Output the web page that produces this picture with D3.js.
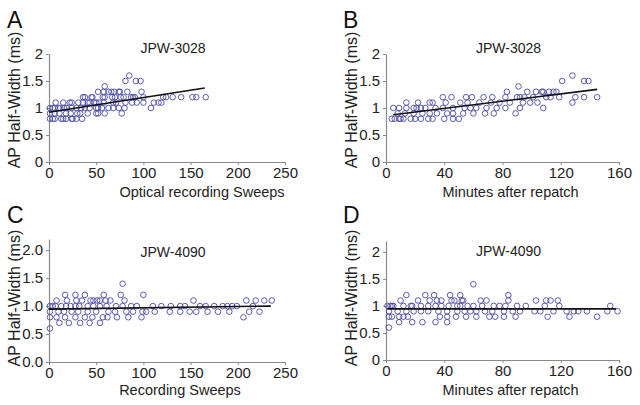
<!DOCTYPE html>
<html>
<head>
<meta charset="utf-8">
<script src="https://cdn.jsdelivr.net/npm/d3@7"></script>
<style>
  body { margin: 0; background: #fff; }
  svg { display: block; font-family: "Liberation Sans", Arial, sans-serif; }
</style>
</head>
<body>
<svg id="chart" width="640" height="405"></svg>
<script>
// x = sweep / minute, y = AP half-width (ms)
const pointsA = [
  [85,1.6],[81,1.5],[92,1.5],[97,1.5],[59,1.4],
  [52,1.3],[58,1.3],[63,1.3],[66,1.3],[69,1.3],[74,1.3],[75,1.3],[83,1.3],[98,1.3],
  [36,1.2],[38,1.2],[45,1.2],[46,1.2],[57,1.2],[59,1.2],[67,1.2],[70,1.2],[76,1.2],[79,1.2],[87,1.2],[89,1.2],[91,1.2],[100,1.2],[121,1.2],[124,1.2],[131,1.2],[140,1.2],[152,1.2],[156,1.2],[166,1.2],
  [7,1.1],[15,1.1],[22,1.1],[24,1.1],[31,1.1],[36,1.1],[41,1.1],[43,1.1],[48,1.1],[50,1.1],[53,1.1],[58,1.1],[68,1.1],[71,1.1],[81,1.1],[88,1.1],[93,1.1],[100,1.1],[111,1.1],[116,1.1],[119,1.1],
  [1,1.0],[4,1.0],[6,1.0],[10,1.0],[12,1.0],[16,1.0],[19,1.0],[24,1.0],[29,1.0],[34,1.0],[38,1.0],[43,1.0],[50,1.0],[52,1.0],[56,1.0],[63,1.0],[68,1.0],[74,1.0],[80,1.0],[108,1.0],
  [1,0.9],[6,0.9],[11,0.9],[18,0.9],[23,0.9],[30,0.9],[33,0.9],[41,0.9],[50,0.9],[52,0.9],[59,0.9],[77,0.9],
  [1,0.8],[4,0.8],[6,0.8],[13,0.8],[15,0.8],[18,0.8],[24,0.8],[25,0.8],[29,0.8],[35,0.8]
];
const pointsB = [
  [128,1.6],[121,1.5],[136,1.5],[139,1.5],[91,1.4],
  [83,1.3],[97,1.3],[103,1.3],[107,1.3],[108,1.3],[112,1.3],[115,1.3],[117,1.3],
  [39,1.2],[45,1.2],[55,1.2],[59,1.2],[67,1.2],[73,1.2],[82,1.2],[90,1.2],[92,1.2],[95,1.2],[101,1.2],[110,1.2],[113,1.2],[119,1.2],[130,1.2],[136,1.2],[145,1.2],
  [14,1.1],[22,1.1],[30,1.1],[32,1.1],[41,1.1],[51,1.1],[56,1.1],[64,1.1],[72,1.1],[78,1.1],[85,1.1],[94,1.1],[99,1.1],[104,1.1],[128,1.1],
  [5,1.0],[9,1.0],[14,1.0],[19,1.0],[21,1.0],[24,1.0],[27,1.0],[34,1.0],[39,1.0],[46,1.0],[54,1.0],[58,1.0],[62,1.0],[69,1.0],[76,1.0],[82,1.0],[92,1.0],[108,1.0],
  [8,0.9],[13,0.9],[19,0.9],[25,0.9],[30,0.9],[35,0.9],[42,0.9],[46,0.9],[53,0.9],[60,0.9],[68,0.9],[74,0.9],[89,0.9],
  [4,0.8],[6,0.8],[9,0.8],[10,0.8],[12,0.8],[17,0.8],[20,0.8],[24,0.8],[29,0.8],[32,0.8],[40,0.8],[46,0.8],[50,0.8]
];
const pointsC = [
  [78,1.4],
  [17,1.2],[28,1.2],[38,1.2],[58,1.2],[76,1.2],[100,1.2],
  [8,1.1],[19,1.1],[29,1.1],[35,1.1],[44,1.1],[47,1.1],[51,1.1],[54,1.1],[60,1.1],[65,1.1],[80,1.1],[153,1.1],[209,1.1],[219,1.1],[228,1.1],[236,1.1],
  [1,1.0],[4,1.0],[7,1.0],[13,1.0],[18,1.0],[23,1.0],[28,1.0],[32,1.0],[41,1.0],[47,1.0],[54,1.0],[61,1.0],[71,1.0],[78,1.0],[87,1.0],[93,1.0],[110,1.0],[119,1.0],[129,1.0],[139,1.0],[144,1.0],[160,1.0],[166,1.0],[175,1.0],[184,1.0],[189,1.0],[194,1.0],[199,1.0],[216,1.0],
  [1,0.9],[10,0.9],[16,0.9],[24,0.9],[31,0.9],[41,0.9],[50,0.9],[63,0.9],[70,0.9],[82,0.9],[89,0.9],[99,0.9],[103,0.9],[112,0.9],[128,0.9],[139,0.9],[149,0.9],[156,0.9],[168,0.9],[179,0.9],[191,0.9],[212,0.9],[223,0.9],
  [1,0.8],[8,0.8],[17,0.8],[28,0.8],[38,0.8],[46,0.8],[57,0.8],[62,0.8],[72,0.8],[84,0.8],[98,0.8],[206,0.8],
  [11,0.7],[21,0.7],[33,0.7],[43,0.7],[54,0.7],
  [1,0.6]
];
const pointsD = [
  [60,1.4],
  [14,1.2],[27,1.2],[33,1.2],[44,1.2],[51,1.2],[84,1.2],
  [10,1.1],[22,1.1],[30,1.1],[35,1.1],[38,1.1],[45,1.1],[47,1.1],[52,1.1],[53,1.1],[65,1.1],[69,1.1],[84,1.1],[103,1.1],[110,1.1],[113,1.1],[118,1.1],
  [1,1.0],[3,1.0],[4,1.0],[5,1.0],[12,1.0],[17,1.0],[18,1.0],[24,1.0],[29,1.0],[34,1.0],[38,1.0],[43,1.0],[49,1.0],[51,1.0],[56,1.0],[60,1.0],[66,1.0],[74,1.0],[78,1.0],[82,1.0],[90,1.0],[96,1.0],[109,1.0],[119,1.0],[154,1.0],
  [2,0.9],[8,0.9],[14,0.9],[19,0.9],[24,0.9],[29,0.9],[36,0.9],[42,0.9],[49,0.9],[54,0.9],[58,0.9],[62,0.9],[68,0.9],[73,0.9],[81,0.9],[87,0.9],[92,0.9],[102,0.9],[106,0.9],[115,0.9],[124,0.9],[129,0.9],[132,0.9],[138,0.9],[152,0.9],[159,0.9],
  [2,0.8],[4,0.8],[9,0.8],[12,0.8],[15,0.8],[37,0.8],[42,0.8],[48,0.8],[55,0.8],[62,0.8],[71,0.8],[75,0.8],[81,0.8],[89,0.8],[111,0.8],[126,0.8],[145,0.8],
  [9,0.7],[18,0.7],[25,0.7],[34,0.7],[42,0.7],
  [2,0.6]
];

// regression lines (start, end)
const fitA = [[0,0.92],[165,1.37]];
const fitB = [[5,0.875],[145,1.345]];
const fitC = [[0,0.945],[235,1.0]];
const fitD = [[1,0.945],[158,0.945]];

const sweepTicks = [0,50,100,150,200,250];
const minuteTicks = [0,40,80,120,160];
const yTicks = [0,0.5,1,1.5,2];

const svg = d3.select("#chart");

const panels = [
  { letter: "A", title: "JPW-3028", xLabel: "Optical recording Sweeps", points: pointsA, fit: fitA,
    xDomain: [0,250], xTicks: sweepTicks, xRange: [49,285], yDomain: [0,2], yRange: [162,54], yFmt: d3.format(""),
    lx: 7, ly: 28, titleY: 53, xLabelY: 197, labelDx: 35 },
  { letter: "B", title: "JPW-3028", xLabel: "Minutes after repatch", points: pointsB, fit: fitB,
    xDomain: [0,160], xTicks: minuteTicks, xRange: [386,619], yDomain: [0,2], yRange: [162,54], yFmt: d3.format(""),
    lx: 343, ly: 28, titleY: 53, xLabelY: 197, labelDx: 8 },
  { letter: "C", title: "JPW-4090", xLabel: "Recording Sweeps", points: pointsC, fit: fitC,
    xDomain: [0,250], xTicks: sweepTicks, xRange: [49,285], yDomain: [0,2.2], yRange: [362,239], yFmt: d3.format(".1f"),
    lx: 7, ly: 223, titleY: 257, xLabelY: 395, labelDx: 13 },
  { letter: "D", title: "JPW-4090", xLabel: "Minutes after repatch", points: pointsD, fit: fitD,
    xDomain: [0,160], xTicks: minuteTicks, xRange: [386,619], yDomain: [0,2.2], yRange: [360,241], yFmt: d3.format(""),
    lx: 343, ly: 223, titleY: 256, xLabelY: 395, labelDx: 8 }
];

panels.forEach(p => {
  const g = svg.append("g");
  const x = d3.scaleLinear().domain(p.xDomain).range(p.xRange);
  const y = d3.scaleLinear().domain(p.yDomain).range(p.yRange);

  // axes
  const xAxis = g.append("g")
    .attr("transform", `translate(0,${p.yRange[0]})`)
    .call(d3.axisBottom(x).tickValues(p.xTicks).tickSize(3).tickPadding(2).tickSizeOuter(0));
  const yAxis = g.append("g")
    .attr("transform", `translate(${p.xRange[0]},0)`)
    .call(d3.axisLeft(y).tickValues(yTicks).tickFormat(p.yFmt).tickSize(3).tickPadding(3).tickSizeOuter(0));
  [xAxis, yAxis].forEach(a => {
    a.select(".domain").attr("stroke", "#8a8a8a").attr("stroke-width", 1.2);
    a.selectAll(".tick line").attr("stroke", "#8a8a8a");
    a.selectAll(".tick text").attr("fill", "#222").style("font-size", "15px")
      .style("font-family", "Liberation Sans, Arial, sans-serif");
  });

  // points
  g.selectAll("circle")
    .data(p.points)
    .join("circle")
    .attr("cx", d => x(d[0]))
    .attr("cy", d => y(d[1]))
    .attr("r", 2.8)
    .attr("fill", "none")
    .attr("stroke", "#4b4ba6")
    .attr("stroke-width", 0.9);

  // fit line
  g.append("path")
    .datum(p.fit)
    .attr("fill", "none")
    .attr("stroke", "#111")
    .attr("stroke-width", 1.6)
    .attr("d", d3.line().x(d => x(d[0])).y(d => y(d[1])));

  // texts
  g.append("text")
    .attr("x", p.lx).attr("y", p.ly)
    .style("font-size", "23px").attr("fill", "#111")
    .text(p.letter);

  g.append("text")
    .attr("x", (p.xRange[0] + p.xRange[1]) / 2 + 6)
    .attr("y", p.titleY)
    .attr("text-anchor", "middle")
    .style("font-size", "14px").attr("fill", "#222")
    .text(p.title);

  g.append("text")
    .attr("x", (p.xRange[0] + p.xRange[1]) / 2 + p.labelDx)
    .attr("y", p.xLabelY)
    .attr("text-anchor", "middle")
    .style("font-size", "14.5px").attr("fill", "#222")
    .text(p.xLabel);

  g.append("text")
    .attr("transform", `translate(${p.xRange[0] - 29},${(p.yRange[0] + y(2)) / 2 - 8}) rotate(-90)`)
    .attr("text-anchor", "middle")
    .style("font-size", "16px").attr("fill", "#222")
    .text("AP Half-Width (ms)");
});
</script>
</body>
</html>
